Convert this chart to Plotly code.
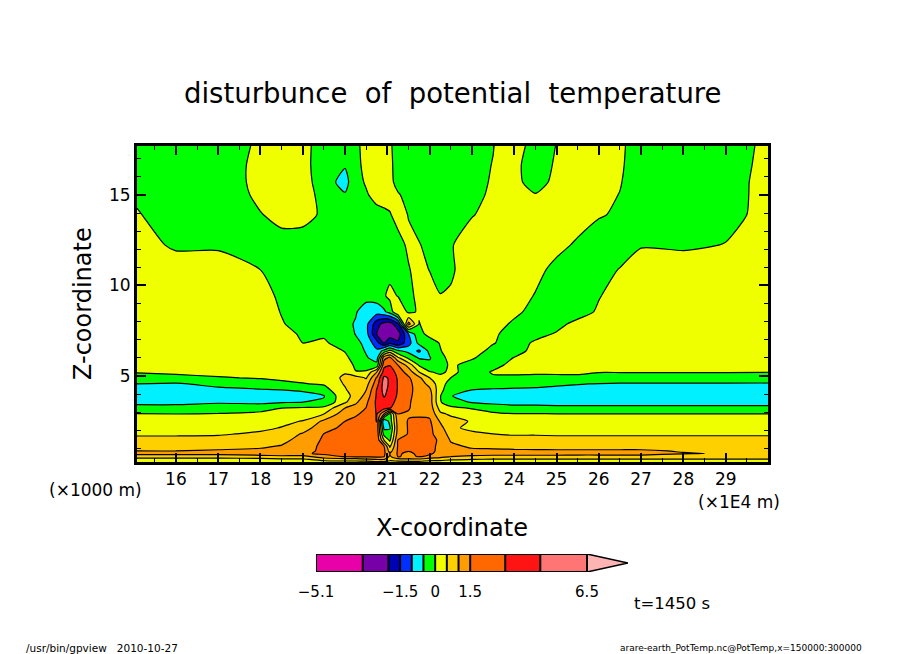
import numpy as np
import plotly.graph_objects as go

# contour levels of the colour bar, and the colour of each band (last = above 6.5)
levels = [-5.1, -3.1, -2, -1.5, -1, -0.5, 0, 0.5, 1, 1.5, 3, 4.5, 6.5]
colors = ["#e800a8", "#7800a8", "#0000b4", "#0030ff", "#00f0ff", "#00ff00", "#f0ff00",
          "#ffd000", "#ff9c00", "#ff6800", "#ff1414", "#ff7474", "#ffb4b4"]
bar_ticks = [-5.1, -1.5, 0, 1.5, 6.5]
bar_labels = ["\u22125.1", "\u22121.5", "0", "1.5", "6.5"]
bar_tip = 8.255
x_ticks = [16, 17, 18, 19, 20, 21, 22, 23, 24, 25, 26, 27, 28, 29]
z_ticks = [5, 10, 15]

x_km = [15.08, 16, 17, 18, 18.5, 19, 19.5, 20, 20.25, 20.5, 20.75, 20.92, 21.06, 21.25, 21.5, 21.75,
        22, 22.25, 22.5, 23, 23.5, 24, 24.5, 25, 25.5, 26, 26.5, 27, 28, 29, 30]
z_km = [0.25, 0.39, 0.55, 0.72, 0.86, 1.13, 1.46, 1.8, 2.13, 2.5, 2.9, 3.23, 3.56, 3.9, 4.23, 4.56, 4.9,
        5.22, 5.6, 6, 6.38, 6.82, 7.32, 7.87, 8.54, 9.42, 10.86, 12.24, 13.9, 15, 15.7, 16.66, 17.7]

# potential temperature disturbance, bottom row first
theta = [
 [.2,.2,.2,.2,.25,.25,.3,.3,.3,.3,.4,.4,.3,.35,.35,.35,.3,.3,.25,.25,.25,.25,.25,.25,.25,.25,.25,.25,.25,.25,.25],
 [.35,.35,.35,.35,.4,.42,.7,.8,.8,.9,1.0,1.0,.7,.8,.9,.9,.7,.65,.55,.5,.45,.45,.45,.45,.45,.45,.45,.45,.45,.45,.45],
 [.7,.7,.7,.75,.85,.8,1.3,1.6,1.7,1.7,1.8,1.6,.9,1.6,1.4,1.6,1.4,1.2,1.0,.9,.85,.85,.85,.85,.85,.85,.85,.85,.85,.85,.85],
 [1.2,1.2,1.2,1.35,1.4,1.42,1.8,2.0,2.1,2.3,2.5,1.8,1.0,1.7,1.4,1.8,1.7,1.35,1.25,1.2,1.2,1.2,1.2,1.2,1.15,1.15,1.15,1.15,1.02,.98,.98],
 [1.0,1.0,1.05,1.1,1.3,1.35,1.8,2.1,2.2,2.4,2.6,1.9,.8,1.7,1.55,1.85,1.8,1.4,1.2,1.1,1.08,1.06,1.05,1.05,1.05,1.05,1.05,1.05,.97,.95,.95],
 [.85,.85,.85,.92,1.03,1.3,1.8,2.1,2.2,2.5,2.7,1.5,.4,1.65,1.6,1.85,1.8,1.42,1.1,.92,.9,.88,.87,.85,.85,.85,.85,.85,.85,.85,.85],
 [.62,.62,.62,.72,.85,1.2,1.7,2.1,2.2,2.5,2.7,.5,-.1,1.55,1.65,1.85,1.8,1.45,.95,.75,.68,.65,.65,.62,.62,.62,.62,.62,.62,.62,.62],
 [.44,.44,.46,.56,.7,1.05,1.52,2.0,2.2,2.5,2.7,-.2,-.3,1.25,1.6,1.85,1.8,1.3,.8,.55,.5,.46,.46,.45,.45,.45,.45,.45,.45,.45,.45],
 [.32,.32,.33,.42,.52,.75,1.35,1.8,2.1,2.4,2.6,-.6,-.55,1.2,1.6,1.8,1.8,1.2,.55,.44,.38,.35,.35,.35,.35,.35,.35,.35,.35,.35,.35],
 [.18,.18,.2,.3,.4,.52,1.1,1.5,1.8,2.2,3.05,-1.0,-.3,1.25,1.6,1.7,1.7,.95,.7,.45,.25,.22,.22,.22,.22,.22,.22,.22,.22,.22,.22],
 [.02,0,.03,.15,.25,.3,.5,1.3,1.45,1.8,3.1,1.0,-.2,1.5,1.45,1.45,1.4,.6,.42,.2,.1,.03,.03,.01,.01,.01,.01,.01,.01,.01,.01],
 [-.35,-.35,-.3,-.25,0,.05,.12,1.0,1.2,1.55,3.2,3.6,3.1,2.2,1.6,1.3,1.3,.3,.1,-.03,-.25,-.38,-.38,-.4,-.4,-.4,-.4,-.4,-.4,-.4,-.4],
 [-.62,-.62,-.55,-.6,-.55,-.5,-.45,.42,.9,1.4,3.3,3.9,3.6,2.5,1.7,1.25,1.25,.03,-.25,-.55,-.62,-.62,-.63,-.65,-.65,-.65,-.65,-.65,-.65,-.65,-.65],
 [-.7,-.7,-.68,-.7,-.65,-.62,-.52,.4,.6,1.2,3.2,4.7,3.9,2.8,1.8,1.3,1.25,.02,-.48,-.7,-.75,-.78,-.78,-.78,-.78,-.78,-.78,-.78,-.78,-.78,-.78],
 [-.62,-.62,-.6,-.55,-.5,-.45,-.2,.45,.75,1.0,3.1,5.2,4.0,2.9,1.9,1.3,1.1,.15,-.35,-.5,-.55,-.58,-.6,-.65,-.65,-.65,-.65,-.65,-.65,-.65,-.65],
 [-.5,-.55,-.38,-.2,-.1,-.02,.05,.55,.75,.8,2.4,5.4,4.2,2.9,1.9,1.25,.85,.2,-.2,-.3,-.3,-.3,-.33,-.42,-.48,-.52,-.55,-.55,-.55,-.55,-.55],
 [-.23,-.14,-.03,.03,.08,.1,.2,.6,.7,.45,1.7,4.9,4.3,2.8,1.7,1.1,.5,.12,0,-.2,-.04,-.05,-.07,-.08,-.1,-.2,-.2,-.2,-.2,-.2,-.22],
 [.04,.1,.12,.12,.15,.15,.2,.45,.02,.08,1.0,3.6,4.0,2.3,1.3,.5,.03,-.08,.08,-.15,.03,.05,.05,.06,.08,.02,.02,.02,.02,.02,.01],
 [.15,.2,.2,.2,.22,.2,.25,.25,-.08,-.3,-.35,2.6,2.9,1.5,.8,-.05,-.35,-.12,.05,-.1,-.1,.1,.2,.2,.2,.2,.2,.2,.2,.2,.2],
 [.18,.2,.2,.25,.25,.2,.25,.08,-.15,-.45,-.7,1.3,1.9,.6,-.1,-.55,-.55,-.05,.05,.03,-.15,.01,.2,.2,.2,.2,.2,.2,.2,.2,.2],
 [.2,.2,.2,.25,.25,.15,.2,-.02,-.25,-.55,-.9,-.3,.2,-.4,-.65,-1.1,-.35,-.02,.15,.15,-.1,-.1,.08,.2,.2,.2,.2,.2,.2,.2,.2],
 [.2,.2,.2,.25,.22,0,.03,-.1,-.38,-.62,-1.3,-2.0,-1.6,-1.9,-1.2,-.35,-.15,.02,.2,.2,.02,-.15,.05,.15,.2,.2,.2,.2,.2,.2,.2],
 [.2,.2,.2,.25,.12,-.05,-.03,-.25,-.52,-.8,-2.05,-2.4,-2.6,-2.6,-1.0,-.1,.1,.2,.2,.2,.08,-.2,-.1,.03,.2,.2,.2,.2,.2,.2,.2],
 [.2,.2,.2,.2,.03,-.15,-.2,-.35,-.55,-.85,-1.8,-2.4,-2.6,-1.6,1.2,-.02,.2,.2,.2,.2,.2,-.08,-.2,-.1,.1,.2,.2,.2,.2,.2,.2],
 [.2,.2,.2,.2,-.02,-.25,-.25,-.3,-.45,-.8,-.8,-.6,-.3,.5,-.1,.05,.15,.2,.2,.2,.2,.1,-.15,-.2,-.15,.05,.2,.2,.2,.2,.2],
 [.2,.2,.2,.2,-.1,-.25,-.25,-.3,-.2,-.3,-.25,-.05,.12,-.02,-.05,.05,.15,.02,.04,.2,.2,.15,-.02,-.2,-.2,-.02,.15,.2,.2,.2,.2],
 [.2,.25,.2,0,-.2,-.25,-.25,-.25,-.2,-.2,-.2,-.15,-.15,-.1,-.02,.1,-.01,-.2,-.05,.2,.2,.2,.1,-.1,-.2,-.15,.02,.2,.2,.2,.2],
 [.2,-.08,-.06,-.2,-.15,-.15,-.25,-.25,-.2,-.2,-.15,-.12,-.1,-.1,.05,.02,-.1,-.2,-.03,.2,.2,.2,.2,.1,-.05,-.2,-.2,-.03,-.06,.01,.2],
 [.03,-.2,-.25,-.02,.12,.1,-.05,-.25,-.2,-.15,-.1,-.08,-.02,.1,-.01,-.15,-.2,-.25,-.1,-.02,.12,.2,.2,.2,.15,.03,-.05,-.2,-.2,-.1,.1],
 [-.06,-.25,-.3,.1,.2,.2,-.15,-.45,-.2,-.03,.1,.15,.1,.03,-.1,-.2,-.25,-.25,-.25,-.08,.05,.2,.02,.2,.2,.1,-.01,-.2,-.25,-.12,.1],
 [-.15,-.25,-.3,.15,.25,.2,-.25,-.7,-.1,.03,.15,.12,.08,-.1,-.2,-.25,-.25,-.25,-.25,-.1,.03,.1,-.15,.1,.2,.08,.02,-.2,-.25,-.15,.12],
 [-.2,-.25,-.3,.15,.25,.15,-.25,-.45,-.08,.08,.15,.12,.08,-.15,-.2,-.25,-.25,-.25,-.2,-.1,.01,.1,-.2,.05,.2,.1,.05,-.2,-.25,-.2,.12],
 [-.2,-.25,-.33,.1,.2,.1,-.15,-.2,-.1,.15,.2,.15,.05,-.15,-.2,-.25,-.25,-.25,-.2,-.1,-.01,.2,-.18,.01,.2,.15,.07,-.2,-.25,-.2,.09],
]

# the page body keeps its 8 px margin, so the figure is 8 px smaller and shifted
W, H = 896, 646
OFF = 8
FONT = "DejaVu Sans"

def fx(px):
    return (px - OFF) / W

def fy(py):
    return 1 - (py - OFF) / H

# levels are not evenly spaced, plotly wants even ones: contour in level-number space
lev_idx = np.arange(len(levels))
z_idx = np.interp(np.array(theta), levels, lev_idx)
n = len(colors)
bar_scale = []
for i, c in enumerate(colors):
    bar_scale += [[i / n, c], [(i + 1) / n, c]]
# contour fill looks the colour up half a level off, so the stops sit half a step over
cont_scale = [[0, colors[0]]]
for i, c in enumerate(colors):
    cont_scale += [[min((i + 0.5) / n, 1), c], [min((i + 1.5) / n, 1), c]]

fig = go.Figure()
fig.add_trace(go.Contour(x=x_km, y=z_km, z=z_idx, autocontour=False, colorscale=cont_scale,
                         contours=dict(start=0, end=n - 1, size=1, coloring="fill"),
                         line=dict(color="black", width=1.2, smoothing=0.6),
                         showscale=False, hoverinfo="skip"))

# colour bar, drawn in value space
fig.add_trace(go.Heatmap(x=levels, y=[0, 1], z=[list(lev_idx[:-1] + 0.5)], zmin=0, zmax=n, colorscale=bar_scale,
                         showscale=False, xaxis="x2", yaxis="y2", hoverinfo="skip"))
sep_x, sep_y = [], []
for lv in levels:
    sep_x += [lv, lv, None]
    sep_y += [0, 1, None]
sep_x += [levels[0], levels[-1], None, levels[0], levels[-1]]
sep_y += [0, 0, None, 1, 1]
fig.add_trace(go.Scatter(x=[levels[-1], bar_tip, levels[-1], levels[-1]], y=[0, 0.5, 1, 0], mode="lines",
                         fill="toself", fillcolor=colors[-1], line=dict(color="black", width=1.5),
                         xaxis="x2", yaxis="y2", hoverinfo="skip"))
fig.add_trace(go.Scatter(x=sep_x, y=sep_y, mode="lines", line=dict(color="black", width=2),
                         xaxis="x2", yaxis="y2", hoverinfo="skip"))

def note(text, px, py, size, angle=0):
    fig.add_annotation(text=text, x=fx(px), y=fy(py), xref="paper", yref="paper", showarrow=False,
                       xanchor="center", yanchor="middle", textangle=angle,
                       font=dict(family=FONT, size=size, color="black"))

note("disturbunce  of  potential  temperature", 452, 93, 27.5)
note("X-coordinate", 452, 528, 24)
note("Z-coordinate", 83, 304, 24, -90)
note("(\u00d71000 m)", 95, 490, 17)
note("(\u00d71E4 m)", 739, 502, 17)
note("t=1450 s", 672, 603, 16.5)
note("/usr/bin/gpview   2010-10-27", 102, 648, 10.5)
note("arare-earth_PotTemp.nc@PotTemp,x=150000:300000", 741, 648, 9)

fig.update_layout(
    width=W, height=H, margin=dict(l=0, r=0, t=0, b=0), paper_bgcolor="white", plot_bgcolor="white",
    showlegend=False, font=dict(family=FONT, color="black"),
    xaxis=dict(domain=[fx(137), fx(768)], range=[15.08, 30], tickmode="array", tickvals=x_ticks, ticks="inside",
               ticklen=9, tickwidth=2, tickcolor="black", showline=True, linecolor="black", linewidth=3,
               mirror="ticks", showgrid=False, zeroline=False, tickfont=dict(size=17), automargin=False,
               minor=dict(dtick=0.5, tick0=16, ticks="inside", ticklen=4, tickwidth=1, tickcolor="black", showgrid=False)),
    yaxis=dict(domain=[fy(462), fy(146)], range=[0.25, 17.7], tickmode="array", tickvals=z_ticks, ticks="inside",
               ticklen=9, tickwidth=2, tickcolor="black", showline=True, linecolor="black", linewidth=3,
               mirror="ticks", showgrid=False, zeroline=False, tickfont=dict(size=17), automargin=False,
               minor=dict(dtick=1, tick0=0, ticks="inside", ticklen=4, tickwidth=1, tickcolor="black", showgrid=False)),
    xaxis2=dict(domain=[fx(316), fx(628)], range=[levels[0], bar_tip], anchor="y2", tickmode="array",
                tickvals=bar_ticks, ticktext=bar_labels, ticks="outside", ticklen=6, tickcolor="rgba(0,0,0,0)",
                showgrid=False, zeroline=False, tickfont=dict(size=15), showline=False, automargin=False),
    yaxis2=dict(domain=[fy(572), fy(554)], range=[0, 1], anchor="x2", visible=False),
)

fig.write_html("out.html")
